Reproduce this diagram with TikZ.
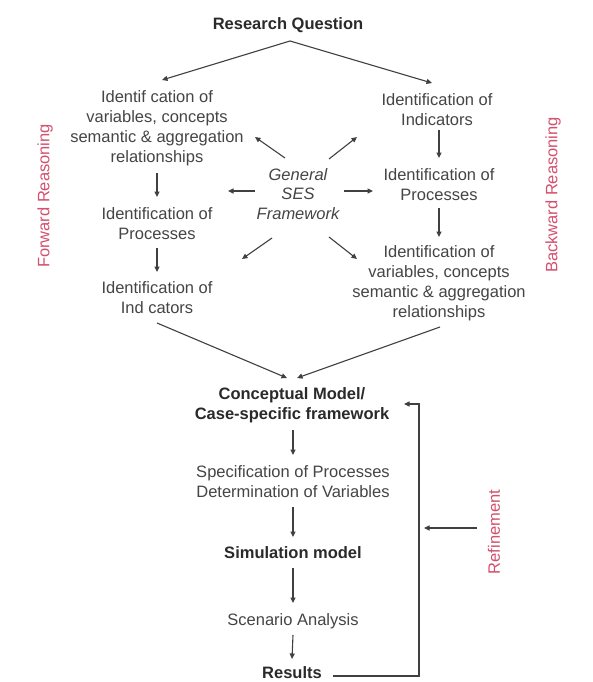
\documentclass[tikz,border=0pt]{standalone}
\usepackage{fontspec}
\setmainfont{Liberation Sans}
\usetikzlibrary{arrows.meta}
\definecolor{txt}{HTML}{454545}
\definecolor{bld}{HTML}{2A2A2A}
\definecolor{redtxt}{HTML}{D4506E}
\definecolor{lnc}{HTML}{404040}
\begin{document}
\begin{tikzpicture}[x=1pt,y=-1pt,
  lbl/.style={font=\fontsize{16.5}{20}\selectfont, text=txt, align=center, inner sep=0pt},
  bl/.style={lbl, font=\fontsize{16.5}{20}\selectfont\bfseries, text=bld},
  it/.style={lbl, font=\fontsize{16.5}{19.5}\selectfont\itshape},
  side/.style={lbl, text=redtxt, rotate=90},
  arr/.style={draw=lnc, line width=1.1pt, -{Triangle[length=5.5pt,width=5pt]}}
]
\fill[white] (0,0) rectangle (593,682);
\useasboundingbox (0,0) rectangle (593,682);

% nodes
\node[bl] (rq) at (288,25) {Research Question};
\node[lbl] (L1) at (157,128) {Identif cation of\\variables, concepts\\semantic \& aggregation\\relationships};
\node[lbl] (L2) at (157,224) {Identification of\\Processes};
\node[lbl] (L3) at (157,298) {Identification of\\Ind cators};
\node[lbl] (R1) at (437,110) {Identification of\\Indicators};
\node[lbl] (R2) at (439,185) {Identification of\\Processes};
\node[lbl] (R3) at (439,283) {Identification of\\variables, concepts\\semantic \& aggregation\\relationships};
\node[it] (C) at (298,194) {General\\SES\\Framework};
\node[bl] (CM) at (292,405) {Conceptual Model/\\Case-specific framework};
\node[lbl] (SP) at (293,482) {Specification of Processes\\Determination of Variables};
\node[bl] (SM) at (293,553) {Simulation model};
\node[lbl] (SA) at (293,621) {Scenario Analysis};
\node[bl] (RS) at (292,673) {Results};
\node[side] (FR) at (45,196) {Forward Reasoning};
\node[side] (BR) at (553,195) {Backward Reasoning};
\node[side] (RF) at (494,532) {Refinement};

% top fork
\draw[arr] ([shift={(2,16)}]rq.center) -- ([shift={(5,-48)}]L1.center);
\draw[arr] ([shift={(2,16)}]rq.center) -- ([shift={(-5,-27)}]R1.center);

% left chain
\draw[arr] ([shift={(0,45)}]L1.center) -- ([shift={(0,-27)}]L2.center);
\draw[arr] ([shift={(0,24)}]L2.center) -- ([shift={(0,-26)}]L3.center);

% right chain
\draw[arr] ([shift={(2,20)}]R1.center) -- ([shift={(0,-27)}]R2.center);
\draw[arr] ([shift={(0,23)}]R2.center) -- ([shift={(0,-46)}]R3.center);

% central framework arrows
\draw[arr] ([shift={(-13,-36)}]C.center) -- ([shift={(98,9)}]L1.center);
\draw[arr] ([shift={(31,-35)}]C.center) -- ([shift={(-80,27)}]R1.center);
\draw[arr] ([shift={(-43,-3)}]C.center) -- ([shift={(71,-33)}]L2.center);
\draw[arr] ([shift={(46,-3)}]C.center) -- ([shift={(-66,6)}]R2.center);
\draw[arr] ([shift={(-26,44)}]C.center) -- ([shift={(85,-39)}]L3.center);
\draw[arr] ([shift={(31,43)}]C.center) -- ([shift={(-82,-24)}]R3.center);

% converge
\draw[arr] ([shift={(0,25)}]L3.center) -- ([shift={(-5,-27)}]CM.center);
\draw[arr] ([shift={(1,44)}]R3.center) -- ([shift={(5,-27)}]CM.center);

% lower chain
\draw[arr] ([shift={(1,25)}]CM.center) -- ([shift={(0,-27)}]SP.center);
\draw[arr] ([shift={(0,25)}]SP.center) -- ([shift={(0,-16)}]SM.center);
\draw[arr] ([shift={(0,15)}]SM.center) -- ([shift={(0,-18)}]SA.center);
\draw[arr] ([shift={(0,14)}]SA.center) -- ([shift={(0,-14)}]RS.center);

% feedback loop
\draw[arr] ([shift={(41,3)}]RS.center) -- ++(86,0) coordinate (fb) |- ([shift={(112,-1)}]CM.center);
\draw[arr] ([shift={(-17,-4)}]RF.center) -- ([shift={(5,-148)}]fb);
\end{tikzpicture}
\end{document}
